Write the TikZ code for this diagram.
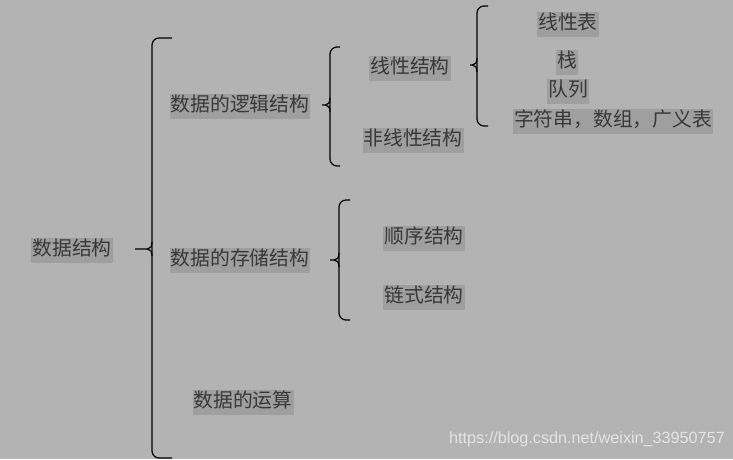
\documentclass[tikz,border=0pt]{standalone}
\usepackage{fontspec}
\newfontfamily\cjk{Noto Sans CJK SC}
\newfontfamily\urlfont{Liberation Sans}

\begin{document}
\begin{tikzpicture}[x=1pt,y=-1pt]
% Colors define
\definecolor{myBack}{HTML}{B3B3B3}
\definecolor{myBox}{HTML}{9F9F9F}
\definecolor{myText}{HTML}{383838}
\definecolor{myMark}{HTML}{E4E4E4}

\tikzset{
  item/.style={fill=myBox,text=myText,inner xsep=1pt,inner ysep=2.5pt,yshift=-1.5pt,
    text height=15pt,text depth=4.5pt,font=\cjk\fontsize{19.8}{19.8}\selectfont},
  brace/.style={draw=black,line width=1.2pt,rounded corners=7pt},
  tip/.style={draw=black,line width=1.2pt}
}

% Background
\fill[myBack] (0,0) rectangle (733,459);

% Nodes
\node[item] (root) at (72,249) {数据结构};
\node[item] (logic) at (240,105) {数据的逻辑结构};
\node[item] (store) at (240,259) {数据的存储结构};
\node[item] (oper) at (243,401) {数据的运算};
\node[item] (linear) at (410,67) {线性结构};
\node[item] (nonlin) at (413,139) {非线性结构};
\node[item] (seq) at (424,237) {顺序结构};
\node[item] (chain) at (424,296) {链式结构};
\node[item] (list) at (568,23) {线性表};
\node[item] (stack) at (567,61) {栈};
\node[item] (queue) at (568,90) {队列};
\node[item] (misc) at (613,120) {字符串，数组，广义表};

% Braces: x / top / middle / bottom / end / tip length
\foreach \x/\t/\m/\b/\e/\l in {152/38/249/458/172/17, 330/47/105/166/340/8,
    477/6/65/126/488/7, 339/200/260/320/350/9}
{
  \draw[brace] (\e,\t) -- (\x,\t) -- (\x,\b) -- (\e,\b);
  \draw[tip] (\x,\m-7) .. controls (\x,\m-2) and (\x-2,\m) .. (\x-5,\m) -- (\x-\l,\m);
  \draw[tip] (\x-5,\m) .. controls (\x-2,\m) and (\x,\m+2) .. (\x,\m+7);
}

% Watermark
\node[text=myMark,font=\urlfont\fontsize{16.2}{16.2}\selectfont,inner sep=0pt]
  (url) at (587,439) {https://blog.csdn.net/weixin\_33950757};
\end{tikzpicture}
\end{document}
